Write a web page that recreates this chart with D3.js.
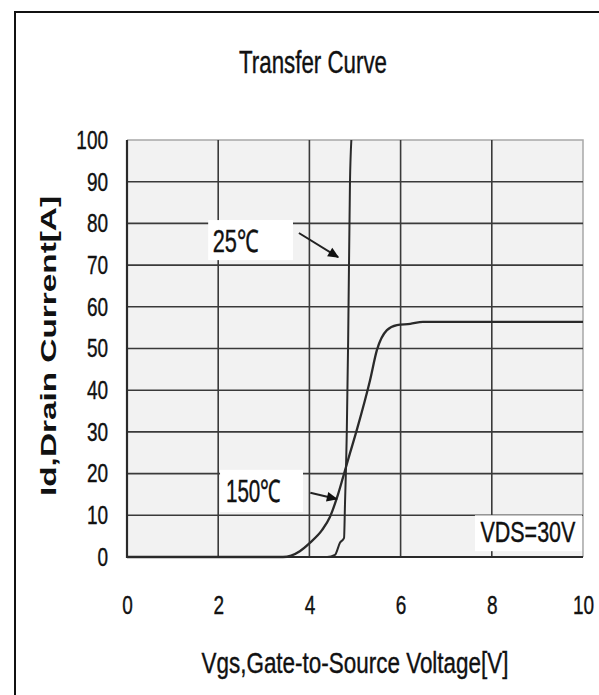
<!DOCTYPE html>
<html>
<head>
<meta charset="utf-8">
<script src="https://cdn.jsdelivr.net/npm/d3@7"></script>
<style>
  html, body { margin: 0; padding: 0; background: #fff; }
  svg { display: block; }
  text { fill: #111; }
</style>
</head>
<body>
<svg id="svg"></svg>
<script>
// values
const xTicks = [0, 2, 4, 6, 8, 10];
const yTicks = [0, 10, 20, 30, 40, 50, 60, 70, 80, 90, 100];

// 25C curve
const vgs25 = [0, 4.39, 4.56, 4.67, 4.76, 4.78, 4.82, 4.85, 4.89, 4.92];
const id25 = [0, 0, 0.5, 3.4, 4.6, 12.5, 30, 52, 90, 100];

// 150C curve
const vgs150 = [0, 3.42, 3.79, 4.01, 4.28, 4.45, 4.61, 4.74, 4.89, 5.04, 5.33, 5.48, 5.70, 5.92, 6.21, 6.49, 10];
const id150 = [0, 0, 1.4, 3.4, 6.5, 9.6, 14.4, 19.2, 24.9, 30.5, 42.4, 49.6, 54.4, 55.6, 55.9, 56.4, 56.4];

const seriesLabels = ["25\u2103", "150\u2103"];
const titleText = "Transfer Curve";
const xLabel = "Vgs,Gate-to-Source Voltage[V]";
const yLabel = "Id,Drain Current[A]";
const noteText = "VDS=30V";

const width = 599;
const height = 695;
const sans = "'Liberation Sans', Arial, sans-serif";

let svg = d3.select("#svg").attr("width", width).attr("height", height);

const plot = { left: 127, right: 583, top: 140, bottom: 557 };

let xScale = d3.scaleLinear().domain([0, 10]).range([plot.left, plot.right]);
let yScale = d3.scaleLinear().domain([0, 100]).range([plot.bottom, plot.top]);

// the scan is stretched tall, so squeeze text sideways
function condense(sel, factor) {
    sel.each(function () {
        let len = this.getComputedTextLength();
        d3.select(this)
            .attr("textLength", len * factor)
            .attr("lengthAdjust", "spacingAndGlyphs");
    });
}

function fitTo(sel, w) {
    sel.attr("textLength", w).attr("lengthAdjust", "spacingAndGlyphs");
}

// outer frame (only top and left edges show in the picture)
svg.append("path")
    .attr("d", `M15,${height} V12 H${width}`)
    .attr("fill", "none")
    .attr("stroke", "#111")
    .attr("stroke-width", 2);

// plot background
svg.append("rect")
    .attr("x", plot.left).attr("y", plot.top)
    .attr("width", plot.right - plot.left)
    .attr("height", plot.bottom - plot.top)
    .attr("fill", "#f2f2f2");

// top and right border are light
svg.append("path")
    .attr("d", `M${plot.left},${plot.top} H${plot.right} V${plot.bottom}`)
    .attr("fill", "none")
    .attr("stroke", "#a8a8a8")
    .attr("stroke-width", 1.5);

let grid = svg.append("g").attr("stroke", "#3a3a3a").attr("stroke-width", 1.6);

grid.selectAll(".hgrid")
    .data(yTicks.filter(d => d > 0 && d < 100))
    .join("line")
    .attr("x1", plot.left).attr("x2", plot.right)
    .attr("y1", d => yScale(d)).attr("y2", d => yScale(d));

grid.selectAll(".vgrid")
    .data(xTicks.filter(d => d > 0 && d < 10))
    .join("line")
    .attr("x1", d => xScale(d)).attr("x2", d => xScale(d))
    .attr("y1", plot.top).attr("y2", plot.bottom);

// dark left and bottom axes lines
svg.append("path")
    .attr("d", `M${plot.left},${plot.top} V${plot.bottom} H${plot.right}`)
    .attr("fill", "none")
    .attr("stroke", "#2a2a2a")
    .attr("stroke-width", 2.2);

// curves
const line = d3.line()
    .x(d => xScale(d[0]))
    .y(d => yScale(d[1]))
    .curve(d3.curveMonotoneX);

svg.append("path")
    .datum(d3.zip(vgs150, id150))
    .attr("d", line)
    .attr("fill", "none")
    .attr("stroke", "#2a2a2a")
    .attr("stroke-width", 2.3);

svg.append("path")
    .datum(d3.zip(vgs25, id25))
    .attr("d", line)
    .attr("fill", "none")
    .attr("stroke", "#2a2a2a")
    .attr("stroke-width", 2);

// axes
let yAxis = svg.append("g")
    .attr("transform", `translate(${plot.left},0)`)
    .call(d3.axisLeft(yScale).tickValues(yTicks).tickSize(0).tickPadding(19));
yAxis.select(".domain").remove();
yAxis.selectAll("text")
    .attr("font-family", sans)
    .attr("font-size", 26)
    .attr("fill", "#111")
    .attr("stroke", "#111")
    .attr("stroke-width", 0.4)
    .call(condense, 0.73);

let xAxis = svg.append("g")
    .attr("transform", `translate(0,${plot.bottom})`)
    .call(d3.axisBottom(xScale).tickValues(xTicks).tickSize(0).tickPadding(39));
xAxis.select(".domain").remove();
xAxis.selectAll("text")
    .attr("font-family", sans)
    .attr("font-size", 26)
    .attr("fill", "#111")
    .attr("stroke", "#111")
    .attr("stroke-width", 0.4)
    .call(condense, 0.73);

// annotations: white label boxes with arrows
svg.append("defs").append("marker")
    .attr("id", "arrow")
    .attr("viewBox", "0 0 10 10")
    .attr("refX", 9).attr("refY", 5)
    .attr("markerWidth", 6).attr("markerHeight", 5.5)
    .attr("orient", "auto")
    .append("path")
    .attr("d", "M0,0.5 L10,5 L0,9.5 Z")
    .attr("fill", "#111");

const notes = [
    { text: seriesLabels[0], w: 46, box: [1.78, 80.8, 3.64, 71.2], tx: 1.88, ty: 73.2, from: [3.77, 77.7], to: [4.63, 71.9] },
    { text: seriesLabels[1], w: 55, box: [2.04, 20.9, 3.86, 10.8], tx: 2.17, ty: 13.2, from: [4.02, 15.4], to: [4.6, 13.9] }
];

notes.forEach(n => {
    svg.append("rect")
        .attr("x", xScale(n.box[0])).attr("y", yScale(n.box[1]))
        .attr("width", xScale(n.box[2]) - xScale(n.box[0]))
        .attr("height", yScale(n.box[3]) - yScale(n.box[1]))
        .attr("fill", "#fff");
    svg.append("text")
        .attr("x", xScale(n.tx)).attr("y", yScale(n.ty))
        .attr("font-family", sans)
        .attr("font-size", 31)
        .attr("stroke", "#111")
        .attr("stroke-width", 0.4)
        .text(n.text)
        .call(fitTo, n.w);
    svg.append("line")
        .attr("x1", xScale(n.from[0])).attr("y1", yScale(n.from[1]))
        .attr("x2", xScale(n.to[0])).attr("y2", yScale(n.to[1]))
        .attr("stroke", "#222")
        .attr("stroke-width", 2)
        .attr("marker-end", "url(#arrow)");
});

// VDS note in lower right
svg.append("rect")
    .attr("x", xScale(7.63)).attr("y", yScale(10))
    .attr("width", xScale(10) - xScale(7.63) - 1)
    .attr("height", yScale(1.4) - yScale(10))
    .attr("fill", "#fff");
svg.append("text")
    .attr("x", xScale(7.75)).attr("y", yScale(3.6))
    .attr("font-family", sans)
    .attr("font-size", 29)
    .attr("stroke", "#111")
    .attr("stroke-width", 0.4)
    .text(noteText)
    .call(fitTo, 95);

// title and axis labels
svg.append("text")
    .attr("x", 313).attr("y", 73)
    .attr("text-anchor", "middle")
    .attr("font-family", sans)
    .attr("font-size", 32)
    .attr("stroke", "#111")
    .attr("stroke-width", 0.4)
    .text(titleText)
    .call(fitTo, 148);

svg.append("text")
    .attr("x", (plot.left + plot.right) / 2).attr("y", 673)
    .attr("text-anchor", "middle")
    .attr("font-family", sans)
    .attr("font-size", 30)
    .attr("stroke", "#111")
    .attr("stroke-width", 0.4)
    .text(xLabel)
    .call(fitTo, 307);

svg.append("text")
    .attr("transform", "translate(56,346) rotate(-90)")
    .attr("text-anchor", "middle")
    .attr("font-family", sans)
    .attr("font-weight", "bold")
    .attr("font-size", 22)
    .text(yLabel)
    .call(fitTo, 300);
</script>
</body>
</html>
